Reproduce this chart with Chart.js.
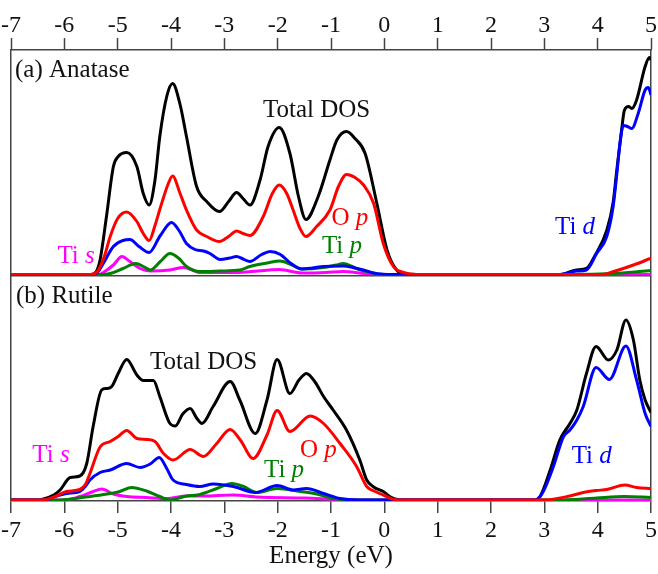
<!DOCTYPE html>
<html>
<head>
<meta charset="utf-8">
<title>TiO2 density of states</title>
<script src="https://cdn.jsdelivr.net/npm/chart.js@4.4.0/dist/chart.umd.min.js"></script>
<style>
  html, body { margin: 0; padding: 0; background: #fff; }
  #wrap { width: 658px; height: 574px; }
</style>
</head>
<body>
<div id="wrap"><canvas id="dosChart" width="658" height="574"></canvas></div>
<script>
// energy (eV) vs DOS (arbitrary units)
const energyTicks = [-7, -6, -5, -4, -3, -2, -1, 0, 1, 2, 3, 4, 5];

// (a) anatase
const anataseTotal = [[-7,0],[-5.5,0],[-5.4,0.3],[-5.33,1.45],[-5.21,5.8],[-5.08,10.8],[-4.99,11.8],[-4.83,12.2],[-4.64,10.8],[-4.52,8.1],[-4.41,6.95],[-4.3,9.45],[-4.21,13.8],[-4.08,17.8],[-3.97,19.1],[-3.83,17.0],[-3.71,13.8],[-3.52,8.8],[-3.33,7.3],[-3.09,6.3],[-2.92,7.3],[-2.77,8.2],[-2.65,7.6],[-2.52,6.95],[-2.33,9.45],[-2.18,12.8],[-1.97,14.7],[-1.77,12.1],[-1.61,7.8],[-1.47,5.5],[-1.24,7.8],[-1.02,11.45],[-0.89,13.45],[-0.71,14.3],[-0.55,13.6],[-0.36,12.1],[-0.14,7.1],[0.05,2.45],[0.23,0.45],[0.42,0.05],[0.6,0],[3.3,0],[3.6,0.45],[3.79,0.6],[3.95,1.9],[4.17,4.4],[4.29,7.2],[4.36,10.5],[4.45,14.5],[4.5,16.4],[4.58,16.8],[4.64,16.6],[4.73,17.45],[4.89,20.8],[4.97,21.7],[5,21.45]];
const anataseOp = [[-7,0],[-5.5,0],[-5.38,0.3],[-5.25,1.8],[-5.14,3.8],[-5.0,5.6],[-4.83,6.25],[-4.64,5.3],[-4.52,4.1],[-4.41,3.4],[-4.3,4.9],[-4.21,6.5],[-4.05,9.1],[-3.97,9.85],[-3.83,8.1],[-3.71,6.45],[-3.52,4.45],[-3.33,3.8],[-3.09,3.3],[-2.92,3.8],[-2.77,4.35],[-2.65,4.1],[-2.52,3.9],[-2.27,5.8],[-2.1,8.1],[-1.97,8.95],[-1.83,8.1],[-1.71,6.45],[-1.58,4.6],[-1.47,3.8],[-1.27,4.8],[-1.02,6.45],[-0.86,8.8],[-0.71,10.0],[-0.55,9.7],[-0.39,8.95],[-0.2,7.1],[-0.02,3.1],[0.17,0.8],[0.36,0.2],[0.6,0],[4.1,0],[4.3,0.3],[4.48,0.6],[4.67,0.95],[4.85,1.3],[5,1.65]];
const anataseTid = [[-7,0],[-5.45,0],[-5.35,0.4],[-5.27,1.1],[-5.08,2.8],[-4.9,3.4],[-4.77,3.5],[-4.6,2.8],[-4.41,2.2],[-4.2,3.9],[-3.99,5.2],[-3.85,4.4],[-3.71,3.1],[-3.55,2.5],[-3.39,2.35],[-3.27,2.1],[-3.08,1.5],[-2.9,1.65],[-2.77,1.8],[-2.65,1.55],[-2.52,1.3],[-2.3,2.0],[-2.14,2.3],[-1.95,2.0],[-1.75,1.1],[-1.55,0.55],[-1.35,0.65],[-1.14,0.8],[-0.77,0.85],[-0.55,0.65],[-0.39,0.45],[-0.1,0.05],[0.3,0],[3.3,0],[3.45,0.15],[3.61,0.35],[3.79,0.45],[3.98,2.1],[4.17,3.8],[4.29,6.8],[4.36,10.1],[4.42,13.2],[4.48,14.9],[4.56,14.8],[4.64,14.6],[4.76,16.1],[4.89,18.45],[4.95,18.7],[5,17.95]];
const anataseTip = [[-7,0],[-5.3,0],[-5.14,0.1],[-4.9,0.6],[-4.66,1.1],[-4.5,0.75],[-4.39,0.45],[-4.2,1.3],[-4.02,2.1],[-3.85,1.6],[-3.71,0.8],[-3.46,0.3],[-3.08,0.35],[-2.71,0.45],[-2.52,0.8],[-2.2,1.15],[-1.96,1.35],[-1.75,1.0],[-1.55,0.55],[-1.14,0.7],[-0.9,0.95],[-0.77,1.1],[-0.6,0.8],[-0.52,0.6],[-0.27,0.2],[0,0],[3.5,0],[4.3,0.1],[4.7,0.25],[5,0.4]];
const anataseTis = [[-7,0],[-5.35,0],[-5.27,0.2],[-5.08,0.95],[-4.92,1.8],[-4.77,1.3],[-4.58,0.6],[-4.39,0.35],[-4.02,0.45],[-3.77,0.7],[-3.6,0.45],[-3.46,0.2],[-2.8,0.2],[-2.5,0.3],[-1.96,0.5],[-1.55,0.15],[-1.1,0.2],[-0.77,0.3],[-0.4,0.1],[0,0],[5,0]];

// (b) rutile
const rutileTotal = [[-7,0],[-6.5,0],[-6.39,0.1],[-6.2,0.5],[-6.08,1.0],[-5.89,2.25],[-5.71,2.4],[-5.58,3.65],[-5.46,7.35],[-5.3,11.0],[-5.21,11.15],[-5.11,11.35],[-4.99,12.65],[-4.83,14.05],[-4.64,12.5],[-4.52,11.95],[-4.33,11.95],[-4.21,10.35],[-4.02,7.65],[-3.92,7.4],[-3.78,8.6],[-3.64,9.15],[-3.52,8.2],[-3.42,7.65],[-3.21,9.35],[-2.89,11.85],[-2.71,10.0],[-2.42,6.65],[-2.2,10.0],[-2.01,14.05],[-1.77,10.65],[-1.6,12.0],[-1.46,12.65],[-1.3,11.8],[-1.14,10.35],[-0.96,9.0],[-0.71,7.0],[-0.46,4.0],[-0.33,2.0],[-0.2,1.3],[-0.02,0.85],[0.1,0.35],[0.25,0.05],[0.5,0],[2.8,0],[2.92,0.35],[3.11,3.0],[3.29,6.0],[3.48,7.65],[3.61,9.0],[3.79,12.65],[3.97,15.35],[4.2,14.0],[4.36,15.0],[4.53,18.0],[4.67,16.0],[4.79,12.0],[4.89,10.0],[5,8.75]];
const rutileOp = [[-7,0],[-6.4,0],[-6.33,0.05],[-6.15,0.4],[-5.96,0.85],[-5.71,1.05],[-5.6,1.6],[-5.52,2.65],[-5.33,5.3],[-5.14,5.85],[-4.99,6.35],[-4.83,6.95],[-4.64,6.15],[-4.46,6.05],[-4.3,5.85],[-4.14,4.65],[-3.96,4.0],[-3.64,5.05],[-3.39,4.35],[-3.15,5.6],[-2.89,7.05],[-2.7,6.0],[-2.46,4.15],[-2.2,6.5],[-2.01,8.95],[-1.77,6.85],[-1.39,8.4],[-1.14,7.65],[-0.83,5.65],[-0.52,3.35],[-0.33,1.35],[-0.15,0.8],[-0.02,0.5],[0.23,0],[3.0,0],[3.48,0.4],[3.73,0.75],[3.98,0.95],[4.17,1.05],[4.51,1.5],[4.73,1.25],[5,1.15]];
const rutileTid = [[-7,0],[-6.35,0],[-6.2,0.3],[-5.96,0.65],[-5.71,0.85],[-5.6,1.4],[-5.52,2.0],[-5.33,2.75],[-5.14,3.0],[-4.83,3.65],[-4.58,3.25],[-4.39,3.6],[-4.22,4.25],[-4.08,3.15],[-3.96,2.0],[-3.71,1.55],[-3.46,1.35],[-3.21,1.6],[-2.83,1.35],[-2.42,0.75],[-2.01,1.45],[-1.71,1.0],[-1.46,1.15],[-1.14,0.65],[-0.83,0.15],[-0.5,0],[2.8,0],[2.86,0.05],[2.98,0.85],[3.17,3.35],[3.36,6.35],[3.48,7.0],[3.61,8.0],[3.73,9.35],[3.97,13.25],[4.22,12.05],[4.53,15.4],[4.73,12.0],[4.89,8.65],[5,7.35]];
const rutileTip = [[-7,0],[-6.1,0],[-5.8,0.15],[-5.52,0.35],[-5.14,0.65],[-4.96,0.85],[-4.74,1.25],[-4.46,0.9],[-4.21,0.35],[-4.02,0],[-3.71,0.4],[-3.5,0.5],[-3.14,1.15],[-2.86,1.65],[-2.64,1.35],[-2.39,0.75],[-2.01,1.15],[-1.58,0.85],[-1.27,0.6],[-0.96,0.15],[-0.6,0],[3.4,0],[3.98,0.2],[4.5,0.35],[5,0.25]];
const rutileTis = [[-7,0],[-6.0,0],[-5.71,0.35],[-5.46,0.85],[-5.3,1.1],[-5.08,0.6],[-4.83,0.35],[-4.46,0.25],[-4.08,0.15],[-3.71,0.4],[-3.39,0.4],[-2.83,0.5],[-2.4,0.3],[-1.5,0.2],[-0.8,0.05],[0,0],[5,0]];

const axisColor = '#444';
const serif = '"Liberation Serif", "Times New Roman", serif';
const colors = { total: '#000000', op: '#ff0000', tid: '#0000ff', tip: '#008000', tis: '#ff00ff' };

// text labels, placed in data coordinates of each panel
const notes = [
  { axis: 'yA', e: -6.925, v: 19.75, text: '(a) Anatase', italic: '', color: '#111' },
  { axis: 'yA', e: -2.275, v: 15.78, text: 'Total DOS', italic: '', color: '#111' },
  { axis: 'yA', e: -0.99, v: 4.95, text: 'O ', italic: 'p', color: colors.op },
  { axis: 'yA', e: -1.17, v: 2.18, text: 'Ti ', italic: 'p', color: colors.tip },
  { axis: 'yA', e: -6.13, v: 1.12, text: 'Ti ', italic: 's', color: colors.tis },
  { axis: 'yA', e: 3.2, v: 4.02, text: 'Ti ', italic: 'd', color: colors.tid },
  { axis: 'yB', e: -6.906, v: 19.67, text: '(b) Rutile', italic: '', color: '#111' },
  { axis: 'yB', e: -4.394, v: 13.07, text: 'Total DOS', italic: '', color: '#111' },
  { axis: 'yB', e: -1.58, v: 4.33, text: 'O ', italic: 'p', color: colors.op },
  { axis: 'yB', e: -2.256, v: 2.33, text: 'Ti ', italic: 'p', color: colors.tip },
  { axis: 'yB', e: -6.6, v: 3.83, text: 'Ti ', italic: 's', color: colors.tis },
  { axis: 'yB', e: 3.513, v: 3.67, text: 'Ti ', italic: 'd', color: colors.tid }
];

const notesPlugin = {
  id: 'notes',
  afterDatasetsDraw(chart) {
    const ctx = chart.ctx;
    const xs = chart.scales.x;
    ctx.save();
    ctx.textBaseline = 'alphabetic';
    ctx.textAlign = 'left';
    notes.forEach(n => {
      let px = xs.getPixelForValue(n.e);
      const py = chart.scales[n.axis].getPixelForValue(n.v);
      ctx.fillStyle = n.color;
      ctx.font = '25px ' + serif;
      ctx.fillText(n.text, px, py);
      if (n.italic) {
        px += ctx.measureText(n.text).width;
        ctx.font = 'italic 25px ' + serif;
        ctx.fillText(n.italic, px, py);
      }
    });
    ctx.restore();
  }
};

function line(data, color, axis, order) {
  return {
    data: data,
    borderColor: color,
    borderWidth: 3,
    pointRadius: 0,
    fill: false,
    cubicInterpolationMode: 'monotone',
    yAxisID: axis,
    order: order
  };
}

const datasets = [
  line(anataseTotal, colors.total, 'yA', 5),
  line(anataseTis, colors.tis, 'yA', 4),
  line(anataseTip, colors.tip, 'yA', 3),
  line(anataseTid, colors.tid, 'yA', 2),
  line(anataseOp, colors.op, 'yA', 1),
  line(rutileTotal, colors.total, 'yB', 5),
  line(rutileTis, colors.tis, 'yB', 4),
  line(rutileTip, colors.tip, 'yB', 3),
  line(rutileTid, colors.tid, 'yB', 2),
  line(rutileOp, colors.op, 'yB', 1)
];

const tickFont = { family: serif, size: 24 };
const setEnergyTicks = s => { s.ticks = energyTicks.map(v => ({ value: v })); };
// the end labels fit inside the page margin, so keep the plot edges fixed
const fixWidth = h => s => { s.height = h; s.paddingLeft = 0; s.paddingRight = 0; };

new Chart(document.getElementById('dosChart'), {
  type: 'line',
  data: { datasets: datasets },
  options: {
    responsive: false,
    animation: false,
    layout: { padding: { left: 11, right: 7, top: 0, bottom: 0 } },
    plugins: { legend: { display: false }, tooltip: { enabled: false } },
    scales: {
      x: {
        type: 'linear', position: 'bottom', min: -7, max: 5,
        afterBuildTicks: setEnergyTicks,
        afterFit: fixWidth(73),
        ticks: { font: tickFont, color: '#111', padding: 3, maxRotation: 0, autoSkip: false, callback: v => String(v) },
        grid: {
          drawOnChartArea: true,
          color: c => (c.tick && (c.tick.value === -7 || c.tick.value === 5)) ? axisColor : 'rgba(0,0,0,0)',
          lineWidth: 1.5, tickColor: axisColor, tickWidth: 1.5, tickLength: 12
        },
        border: { display: true, color: axisColor, width: 1.5 },
        title: { display: true, text: 'Energy (eV)', font: { family: serif, size: 25 }, color: '#111', padding: { top: 0, bottom: 3 } }
      },
      xTop: {
        type: 'linear', position: 'top', min: -7, max: 5,
        afterBuildTicks: setEnergyTicks,
        afterFit: fixWidth(50),
        ticks: { font: tickFont, color: '#111', padding: -2, maxRotation: 0, autoSkip: false, callback: v => String(v) },
        grid: { drawOnChartArea: false, tickColor: axisColor, tickWidth: 1.5, tickLength: 12 },
        border: { display: true, color: axisColor, width: 1.5 }
      },
      yA: {
        type: 'linear', position: 'left', stack: 'panels', stackWeight: 1, weight: 1,
        min: -0.1, max: 22.45,
        afterBuildTicks: s => { s.ticks = [{ value: s.min }]; },
        afterFit: s => { s.width = 0; },
        ticks: { display: false },
        grid: { drawTicks: false, color: axisColor, lineWidth: 1.5 },
        border: { display: false }
      },
      yB: {
        type: 'linear', position: 'left', stack: 'panels', stackWeight: 1, weight: 0,
        min: -0.1, max: 22.45,
        afterFit: s => { s.width = 0; },
        ticks: { display: false },
        grid: { display: false },
        border: { display: false }
      }
    }
  },
  plugins: [notesPlugin]
});
</script>
</body>
</html>
